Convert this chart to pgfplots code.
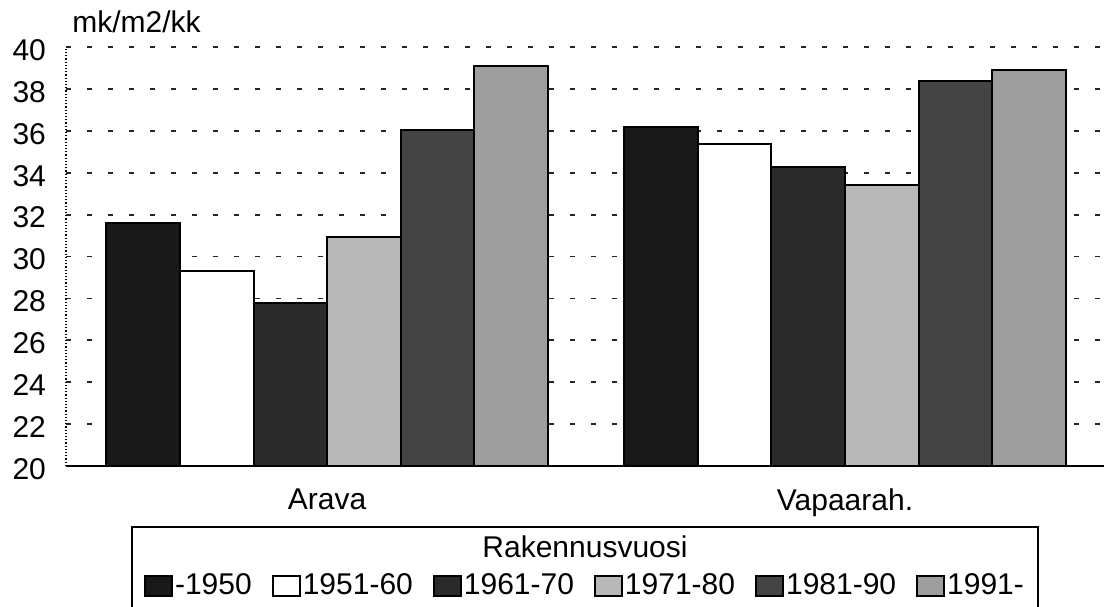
\documentclass[border=0pt]{standalone}
\usepackage{fontspec}
\setmainfont{Liberation Sans}
\usepackage{pgfplots}
\pgfplotsset{compat=1.18}
\definecolor{cA}{HTML}{181818}
\definecolor{cB}{HTML}{FFFFFF}
\definecolor{cC}{HTML}{2A2A2A}
\definecolor{cD}{HTML}{B8B8B8}
\definecolor{cE}{HTML}{444444}
\definecolor{cF}{HTML}{9E9E9E}
\begin{document}
\begin{tikzpicture}
\useasboundingbox (0,0) rectangle (552pt,303pt);
\begin{axis}[
  at={(33pt,70pt)}, anchor=south west,
  scale only axis, width=519pt, height=209.5pt,
  ymin=20, ymax=40, ytick={20,22,...,40},
  xmin=-0.504, xmax=1.5,
  xtick={0,1}, xticklabels={Arava,Vapaarah.},
  ybar=0pt, bar width=0.142,
  axis x line*=bottom, axis y line*=left,
  x axis line style={line width=1.2pt},
  y axis line style={densely dotted, line width=0.6pt},
  major tick length=0pt,
  ymajorgrids,
  grid style={dash pattern=on 2.5pt off 8pt, line width=0.9pt, black!85},
  /pgf/number format/assume math mode=true,
  yticklabel style={font=\fontsize{15}{18}\selectfont, xshift=-6.5pt, yshift=-1.5pt},
  xticklabel style={font=\fontsize{15}{18}\selectfont, yshift=-8pt},
  every axis plot/.append style={draw=black, line width=1pt},
  legend columns=6,
  legend style={at={(0.5,-0.286)}, anchor=center, draw=none, fill=none,
    font=\fontsize{15}{18}\selectfont,
    nodes={inner sep=1pt},
    /tikz/every even column/.append style={column sep=9pt}},
  legend image code/.code={\draw[#1,line width=1pt] (0pt,-5pt) rectangle (13.5pt,5pt);},
]
\addplot[fill=cA] coordinates {(0,31.6) (1,36.2)};
\addplot[fill=cB] coordinates {(0,29.33) (1,35.37)};
\addplot[fill=cC] coordinates {(0,27.8) (1,34.25)};
\addplot[fill=cD] coordinates {(0,30.95) (1,33.4)};
\addplot[fill=cE] coordinates {(0,36.06) (1,38.37)};
\addplot[fill=cF] coordinates {(0,39.08) (1,38.9)};
\legend{-1950,1951-60,1961-70,1971-80,1981-90,1991-}
\end{axis}
\node[anchor=base west, inner sep=0, font=\fontsize{15}{18}\selectfont] at (36pt,286.5pt) {mk/m2/kk};
\draw[line width=1pt] (66pt,-5pt) rectangle (519pt,39.5pt);
\node[anchor=base, inner sep=0, font=\fontsize{15}{18}\selectfont] at (292.5pt,24.5pt) {Rakennusvuosi};
\end{tikzpicture}
\end{document}
